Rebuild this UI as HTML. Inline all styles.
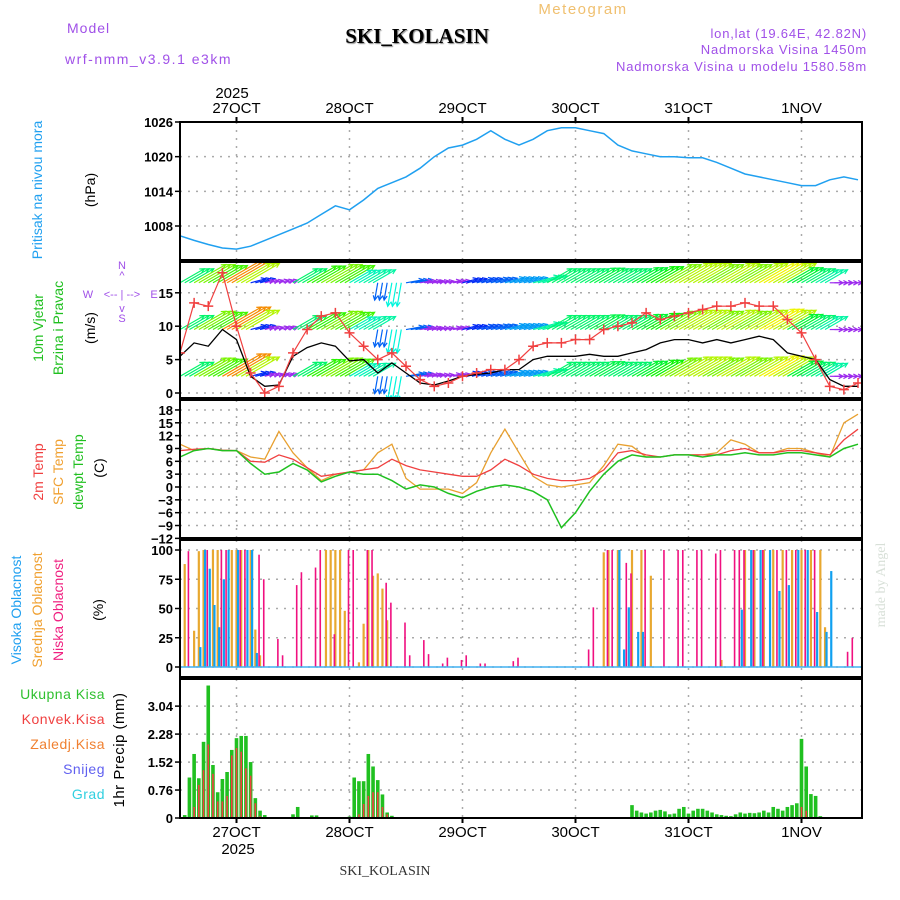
<!DOCTYPE html>
<html><head><meta charset="utf-8">
<style>
body{margin:0;background:#fff;}
svg{display:block;font-family:"Liberation Sans",sans-serif;}
.tk{font-size:13px;font-weight:bold;fill:#000;text-anchor:end;}
.day{font-size:15px;fill:#000;text-anchor:middle;}
.grid{stroke:#aaa;stroke-width:1.5;stroke-dasharray:2,6;}
</style></head>
<body>
<svg id="chart" width="900" height="900" viewBox="0 0 900 900" xmlns="http://www.w3.org/2000/svg">
<rect width="900" height="900" fill="#fff"/>
<text x="67" y="33" font-size="14" fill="#a050e8" letter-spacing="1">Model</text>
<text x="65" y="64" font-size="14" fill="#a050e8" letter-spacing="1.5">wrf-nmm_v3.9.1 e3km</text>
<text x="417" y="43" font-size="21" font-weight="bold" font-family="Liberation Serif,serif" text-anchor="middle" fill="#000" style="text-shadow:1px 1px 1px #888">SKI_KOLASIN</text>
<text x="583" y="14" font-size="15" fill="#f0c070" text-anchor="middle" letter-spacing="1.5">Meteogram</text>
<text x="867" y="38" font-size="13" fill="#a050e8" text-anchor="end" letter-spacing="0.8">lon,lat (19.64E, 42.82N)</text>
<text x="867" y="54" font-size="13" fill="#a050e8" text-anchor="end" letter-spacing="0.8">Nadmorska Visina 1450m</text>
<text x="867" y="71" font-size="13" fill="#a050e8" text-anchor="end" letter-spacing="0.8">Nadmorska Visina u modelu 1580.58m</text>

<text x="232" y="98" class="day">2025</text>
<text x="238" y="854" class="day">2025</text>
<text x="385" y="875" font-size="14" font-family="Liberation Serif,serif" text-anchor="middle" fill="#333">SKI_KOLASIN</text>
<text transform="translate(885,585) rotate(-90)" font-size="14" font-family="Liberation Serif,serif" text-anchor="middle" fill="#d8e0d8">made by Angel</text>

<g>
<text transform="translate(42,190) rotate(-90)" font-size="14" fill="#20a0f0" text-anchor="middle">Pritisak na nivou mora</text>
<text transform="translate(95,190) rotate(-90)" font-size="14" fill="#000" text-anchor="middle">(hPa)</text>
</g>
<g>
<text transform="translate(43,328) rotate(-90)" font-size="14" fill="#20c020" text-anchor="middle">10m Vjetar</text>
<text transform="translate(63,328) rotate(-90)" font-size="14" fill="#20c020" text-anchor="middle">Brzina i Pravac</text>
<text transform="translate(95,328) rotate(-90)" font-size="14" fill="#000" text-anchor="middle">(m/s)</text>
</g>
<g font-size="11" fill="#a050e8" text-anchor="middle">
<text x="122" y="269">N</text>
<text x="122" y="279">^</text>
<text x="122" y="298">&lt;-- | --&gt;</text>
<text x="88" y="298">W</text>
<text x="154" y="298">E</text>
<text x="122" y="312">v</text>
<text x="122" y="322">S</text>
</g>
<g>
<text transform="translate(43,472) rotate(-90)" font-size="14" fill="#f04040" text-anchor="middle">2m Temp</text>
<text transform="translate(63,472) rotate(-90)" font-size="14" fill="#f0a030" text-anchor="middle">SFC Temp</text>
<text transform="translate(83,472) rotate(-90)" font-size="14" fill="#20c020" text-anchor="middle">dewpt Temp</text>
<text transform="translate(104,468) rotate(-90)" font-size="14" fill="#000" text-anchor="middle">(C)</text>
</g>
<g>
<text transform="translate(21,610) rotate(-90)" font-size="14" fill="#20a0f0" text-anchor="middle">Visoka Oblacnost</text>
<text transform="translate(42,610) rotate(-90)" font-size="14" fill="#f0a030" text-anchor="middle">Srednja Oblacnost</text>
<text transform="translate(63,610) rotate(-90)" font-size="14" fill="#f02080" text-anchor="middle">Niska Oblacnost</text>
<text transform="translate(103,610) rotate(-90)" font-size="14" fill="#000" text-anchor="middle">(%)</text>
</g>
<g font-size="14" text-anchor="end" letter-spacing="0.5">
<text x="105" y="699" fill="#30c030">Ukupna  Kisa</text>
<text x="105" y="724" fill="#f04040">Konvek.Kisa</text>
<text x="105" y="749" fill="#f08030">Zaledj.Kisa</text>
<text x="105" y="774" fill="#6060f0">Snijeg</text>
<text x="105" y="799" fill="#30d0e0">Grad</text>
<text transform="translate(124,750) rotate(-90)" font-size="15" fill="#000" text-anchor="middle">1hr Precip (mm)</text>
</g>
<g id="plot"></g>
</svg>
<script>
// ---- data ----
const dayLabels = ["27OCT","28OCT","29OCT","30OCT","31OCT","1NOV"];
const pressureTicks = [1008,1014,1020,1026];
const windTicks = [0,5,10,15];
const tempTicks = [-12,-9,-6,-3,0,3,6,9,12,15,18];
const cloudTicks = [0,25,50,75,100];
const precipTicks = [0,0.76,1.52,2.28,3.04];
// 3-hourly series starting 26OCT 12UTC
const pressure = [1006.3,1005.5,1004.8,1004.2,1004,1004.5,1005.5,1006.5,1007.5,1008.5,1010,1011.5,1010.8,1012.5,1014.5,1015.5,1016.5,1018,1020,1021.5,1022,1023,1024.5,1023,1022,1023,1024.5,1025,1025,1024.5,1024,1022,1021,1020.5,1020,1020,1019.8,1019.8,1019,1018,1017,1016.5,1016,1015.5,1015,1015,1016,1016.5,1016];
const windSpeed = [5.5,7.5,7,9.5,8,2.5,1,1.2,5.5,6.8,7.5,7,4.8,5,3,4.5,3,1.5,1.2,1.8,2.5,2.8,3,3.5,3.5,5,5.5,5.5,5.5,5.8,5.5,5.5,6,6.5,7.5,8,8,7.5,8,7.5,8,8.5,8,6,5.5,5,2,1,1];
const windGust = [6,13.5,13,18,10,3,0,1,6,9.5,11.5,12,9,7,5,6,4,2,1,1.5,2.5,3,3.5,3.5,5,7,7.5,7.5,8,8,9.5,10,10.5,12,11,11.5,12,12.5,13,13,13.5,13,13,11,9,5,1,0.5,1.5];
const windDir = [30,30,30,30,30,15,15,15,30,30,30,30,30,30,-100,-100,10,10,10,10,15,15,15,15,15,15,30,30,30,30,30,30,30,30,30,30,30,30,30,30,30,30,30,30,30,30,0,0,0];
const temp2m = [8.5,8.8,9,8.6,8.5,6,5.8,7.5,6.5,4.5,2.5,3,3.5,4,4.5,6.5,5,4,3.5,3,2.5,2.5,4,6.5,5,3,2,1.5,1.5,2,4,8,8.5,7.5,7,7.5,7.5,7.5,7.5,8.5,9,8,8,8.5,8.5,8,7.5,11,13.5];
const tempSfc = [10,8.5,9,8.5,8.5,7,6.5,13,8,4.5,1.5,3,3.5,4,8,10,2,-0.5,-0.5,-0.5,-1.5,1,8,13.5,8,2.5,0.5,0,0.5,1,5,10,9.5,7,7,7.5,7.5,7.5,8,11,10,8,8,9,9,8,7,15,17];
const dewpt = [7,8.5,9,8.5,8.5,5.5,3,3.5,5.5,4,1.2,2.5,3.5,3,3,1.5,-0.5,0.5,0,-1.5,-2.5,-1,0,0.5,0,-1,-3,-9.5,-6,-1,3,6,7.5,7,7,7.5,7.5,7,7.5,7.5,8,7.5,7.5,8,8,7.5,7,9,10];
// hourly cloud bars [hour index, percent]
const lowHours = [2,6,9,10,13,14,17,18,21,22,25,26,29,30,33,36,37,40,41,44,45,48,49,52,53,56,57,60,61,64,65,71,72,87,88,91,92,95,96,99,103,106,107,110,111,114,115,118,119,120,122,124,127,129,131,133,135,142,143];
const lowVals = [99,100,100,100,100,100,96,75,24,10,70,81,85,100,28,100,100,100,100,72,55,38,10,23,11,3,8,6,10,3,3,5,8,15,51,100,100,89,80,100,100,100,100,100,100,97,100,100,100,100,100,100,100,100,100,100,100,13,25];
const midHours = [1,3,4,5,7,8,11,12,13,15,16,17,31,32,33,34,35,38,39,40,41,42,43,44,90,91,93,96,98,100,115,120,122,124,126,128,130,132,134,136,137];
const midVals = [88,31,99,100,100,100,100,100,100,100,32,10,100,100,100,100,48,4,37,100,78,80,67,40,98,100,100,100,100,78,6,100,100,100,100,100,100,100,100,100,34];
const highHours = [4,5,6,7,8,9,10,12,14,15,16,93,94,95,97,98,119,121,123,125,127,129,131,133,135,137,138];
const highVals = [17,100,84,53,34,75,100,100,100,100,12,100,15,51,30,30,49,100,100,100,65,70,100,100,47,30,82];
// hourly precip
const precipHours = [1,2,3,4,5,6,7,8,9,10,11,12,13,14,15,16,17,18,24,25,28,29,36,37,38,39,40,41,42,43,44,45,96,97,98,99,100,101,102,103,104,105,106,107,108,109,110,111,112,113,114,115,116,117,118,119,120,121,122,123,124,125,126,127,128,129,130,131,132,133,134,135,136];
const precipTotal = [0.08,1.1,1.74,1.08,2.07,3.6,1.44,0.7,1.06,1.25,1.85,2.17,2.23,2.23,1.52,0.54,0.2,0.08,0.1,0.3,0.07,0.07,0.04,1.1,1.0,1.0,1.74,1.4,1.03,0.64,0.15,0.06,0.35,0.2,0.15,0.12,0.15,0.2,0.22,0.18,0.1,0.12,0.25,0.3,0.12,0.2,0.25,0.25,0.2,0.15,0.1,0.08,0.06,0.05,0.1,0.15,0.12,0.14,0.13,0.15,0.2,0.15,0.3,0.25,0.2,0.3,0.35,0.4,2.15,1.4,0.65,0.6,0.05];
const convHours = [3,4,5,6,7,8,9,10,11,12,13,14,15,16,17,38,39,40,41,42,43,44,132,133];
const convVals = [0.3,0.9,1.3,2.0,1.2,0.45,0.45,0.6,1.7,1.9,1.8,1.35,1.15,0.4,0.05,0.1,0.38,0.6,0.7,0.7,0.3,0.1,0.3,0.2];

// ---- axes ----
const X0=180, X1=862, PX_H=113/24;
const xH = h => X0 + h*PX_H;
const x3 = k => xH(k*3);
const yP = v => 122 + (1026-v)*104/18;
const yW = v => 393 - v*6.68;
const yT = v => 487 - v*4.28;
const yC = v => 667 - v*1.17;
const yR = v => 818 - v*36.8;
const panels = [[122,260],[262,398],[400,538],[540,677],[679,818]];

const g = document.getElementById('plot');
const NS='http://www.w3.org/2000/svg';
function el(tag, attrs, parent){const e=document.createElementNS(NS,tag);for(const k in attrs)e.setAttribute(k,attrs[k]);(parent||g).appendChild(e);return e;}

const grid = el('g',{});


dayLabels.forEach((d,i)=>{
  const x = xH(12+24*i);
  panels.forEach(p=>{el('line',{x1:x,x2:x,y1:p[0],y2:p[1],class:'grid'},grid);});
  const t1 = el('text',{x:x,y:113,class:'day'});
  
  
  t1.textContent=d;
  const t2 = el('text',{x:x,y:837,class:'day'});
  
  
  t2.textContent=d;
  el('line',{x1:x,x2:x,y1:818,y2:823,stroke:'#000','stroke-width':2});
  el('line',{x1:x,x2:x,y1:117,y2:122,stroke:'#000','stroke-width':2});
});
function hTicks(ticks, yf, fmt, name){
  ticks.forEach(v=>{
    const y=yf(v);
    el('line',{x1:X0,x2:X1,y1:y,y2:y,class:'grid'},grid);
    el('line',{x1:X0-5,x2:X0,y1:y,y2:y,stroke:'#000','stroke-width':1.5});
    const t=el('text',{x:X0-7,y:y+5,class:'tk'});
    
    
    t.textContent=fmt?fmt(v):v;
  });
}
hTicks(pressureTicks,yP,null,'pressure-tick');
hTicks(windTicks,yW,null,'wind-tick');
hTicks(tempTicks,yT,v=>v<0?'\u2212'+(-v):v,'temp-tick');
hTicks(cloudTicks,yC,null,'cloud-tick');
hTicks(precipTicks,yR,v=>v===0?'0':v.toFixed(2),'precip-tick');

function line(arr, yf, color, name, w){
  const d = arr.map((v,k)=>(k?'L':'M')+x3(k).toFixed(1)+','+yf(v).toFixed(1)).join('');
  const p = el('path',{d:d,fill:'none',stroke:color,'stroke-width':w||1.3});
  
  
  return p;
}
line(pressure,yP,'#20a0f0','pressure-line',1.5);

// wind arrows
function jet(s){if(s<2.3)return 'hsl(275,85%,55%)';const h=Math.max(0,230-(s-2.5)*28);return 'hsl('+h+',100%,48%)';}
const clipWind = el('clipPath',{id:'cw'});
el('rect',{x:X0,y:262,width:X1-X0,height:136},clipWind);
const wg = el('g',{'clip-path':'url(#cw)'});


[2.5,9.5,16.5].forEach(base=>{
  windDir.forEach((a,k)=>{
    const s=windSpeed[k], len=5+s*4.2, r=a*Math.PI/180;
    const c=jet(s);
    for(let o=0;o<3;o++){
      const x=xH(k*3+o), y=yW(base);
      const ex=x+len*Math.cos(r), ey=y-len*Math.sin(r);
      el('line',{x1:x,y1:y,x2:ex,y2:ey,stroke:c,'stroke-width':1.2},wg);
      const r1=r+Math.PI*0.85, r2=r-Math.PI*0.85;
      el('path',{d:'M'+(ex+5*Math.cos(r1))+','+(ey-5*Math.sin(r1))+'L'+ex+','+ey+'L'+(ex+5*Math.cos(r2))+','+(ey-5*Math.sin(r2)),fill:'none',stroke:c,'stroke-width':1.2},wg);
    }
  });
});
line(windSpeed,yW,'#000','wind-speed-line',1.3);
const gl = line(windGust,yW,'#f04040','wind-gust-line',1.2);
gl.setAttribute('clip-path','url(#cw)');
const gm = el('g',{'clip-path':'url(#cw)'});


windGust.forEach((v,k)=>{const x=x3(k),y=yW(v);
  el('path',{d:`M${x-5},${y}h10M${x},${y-5}v10`,stroke:'#f04040','stroke-width':1.5},gm);});

line(tempSfc,yT,'#e8a030','sfc-temp-line',1.3);
line(temp2m,yT,'#f04040','2m-temp-line',1.3);
line(dewpt,yT,'#20c020','dewpt-line',1.5);

function bars(hours, vals, yf, color, off, w, name){
  const bg = el('g',{});
  
  
  hours.forEach((h,i)=>{
    const x=xH(h)+off, y=yf(vals[i]), y0=yf(0);
    el('rect',{x:x-w/2,y:y,width:w,height:Math.max(0,y0-y),fill:color},bg);
  });
}
bars(midHours,midVals,yC,'#e8a830',0,2.2,'mid-cloud-bars');
bars(highHours,highVals,yC,'#10a0f0',1.5,2.2,'high-cloud-bars');
bars(lowHours,lowVals,yC,'#f01080',-1,1.6,'low-cloud-bars');
el('line',{x1:X0,x2:X1,y1:yC(0),y2:yC(0),stroke:'#40b0f0','stroke-width':1.5});

bars(precipHours,precipTotal,yR,'#20c020',0,3.6,'total-precip-bars');
bars(convHours,convVals,yR,'#f04040',0,1.6,'convective-precip-bars');

panels.forEach(p=>{
  const r=el('rect',{x:X0,y:p[0],width:X1-X0,height:p[1]-p[0],fill:'none',stroke:'#000','stroke-width':2});
  
  
});
</script>
</body></html>
